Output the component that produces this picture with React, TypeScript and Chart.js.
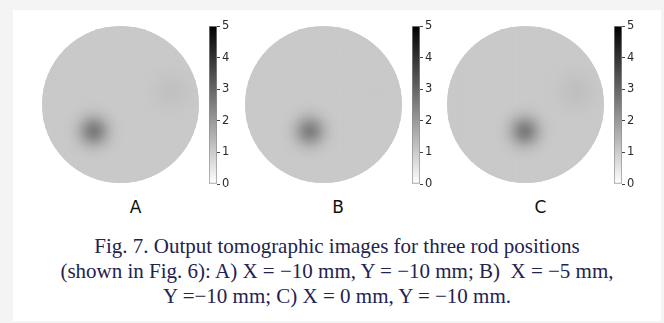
import React, { useEffect, useRef } from 'react';
import { Chart, registerables } from 'chart.js';

Chart.register(...registerables);

// ---------- data ----------
const PANEL_LABELS = ['A', 'B', 'C'];
const FIELD_RADIUS_MM = 30;
const BACKGROUND_LEVEL = [1.05, 1.05, 1.05];
const ROD_X_MM = [-10, -5, 0];
const ROD_Y_MM = [-10, -10, -10];
const ROD_PEAK = [1.5, 1.42, 1.5];
const ROD_SIGMA_MM = [3.9, 3.9, 3.9];
const ARTIFACT_X_MM = [19.5, 19.5, 19.5];
const ARTIFACT_Y_MM = [5.3, 5.3, 5.3];
const ARTIFACT_PEAK = [0.17, 0.02, 0.19];
const ARTIFACT_SIGMA_MM = [5.0, 5.0, 5.0];
const COLORBAR_MIN = 0;
const COLORBAR_MAX = 5;
const COLORBAR_TICKS = [0, 1, 2, 3, 4, 5];
const GRID_CELLS = 90;

const CAPTION_LINES = [
  'Fig. 7. Output tomographic images for three rod positions',
  '(shown in Fig. 6): A) X = \u221210 mm, Y = \u221210 mm; B)\u00a0 X = \u22125 mm,',
  'Y =\u221210 mm; C) X = 0 mm, Y = \u221210 mm.',
];

// ---------- layout ----------
const PANEL_STEP = 202.5;
const IMG_LEFT = 42;
const IMG_TOP = 26;
const IMG_SIZE = 157;
const CB_LEFT = 209;
const CB_TOP = 26;
const CB_BAR_W = 8;
const CB_BAR_H = 158;
const CB_AXIS_W = 20;
const CB_PAD = 9;
const LABEL_CX = 135.5;

type Cell = { x: number; y: number; v: number };

function buildCells(k: number): Cell[] {
  const R = FIELD_RADIUS_MM;
  const step = (2 * R) / GRID_CELLS;
  const cells: Cell[] = [];
  for (let i = 0; i < GRID_CELLS; i++) {
    for (let j = 0; j < GRID_CELLS; j++) {
      const x = -R + step * (i + 0.5);
      const y = -R + step * (j + 0.5);
      if (x * x + y * y > (R + step) * (R + step)) continue;
      const dr = (x - ROD_X_MM[k]) ** 2 + (y - ROD_Y_MM[k]) ** 2;
      const da = (x - ARTIFACT_X_MM[k]) ** 2 + (y - ARTIFACT_Y_MM[k]) ** 2;
      const v =
        BACKGROUND_LEVEL[k] +
        ROD_PEAK[k] * Math.exp(-dr / (2 * ROD_SIGMA_MM[k] ** 2)) +
        ARTIFACT_PEAK[k] * Math.exp(-da / (2 * ARTIFACT_SIGMA_MM[k] ** 2));
      cells.push({ x, y, v });
    }
  }
  return cells;
}

function grayFor(v: number): string {
  let t = (v - COLORBAR_MIN) / (COLORBAR_MAX - COLORBAR_MIN);
  t = Math.max(0, Math.min(1, t));
  const g = Math.round(255 * (1 - t));
  return `rgb(${g},${g},${g})`;
}

const circleClip = {
  id: 'circleClip',
  beforeDatasetsDraw(chart: any) {
    const { ctx } = chart;
    const xs = chart.scales.x;
    const ys = chart.scales.y;
    const cx = xs.getPixelForValue(0);
    const cy = ys.getPixelForValue(0);
    const r = Math.abs(xs.getPixelForValue(FIELD_RADIUS_MM) - cx);
    ctx.save();
    ctx.beginPath();
    ctx.arc(cx, cy, r, 0, Math.PI * 2);
    ctx.clip();
  },
  afterDatasetsDraw(chart: any) {
    chart.ctx.restore();
  },
};

function ImagePanel({ k }: { k: number }) {
  const ref = useRef<HTMLCanvasElement | null>(null);
  useEffect(() => {
    if (!ref.current) return;
    const cells = buildCells(k);
    const step = (2 * FIELD_RADIUS_MM) / GRID_CELLS;
    const radiusFn = (c: any) => {
      const xs = c.chart.scales.x;
      const px = Math.abs(xs.getPixelForValue(step) - xs.getPixelForValue(0));
      return (px + 1) / Math.SQRT2;
    };
    const chart = new Chart(ref.current, {
      type: 'scatter',
      data: {
        datasets: [
          {
            data: cells as any,
            backgroundColor: cells.map((c) => grayFor(c.v)),
            borderWidth: 0,
            pointStyle: 'rect',
            pointRadius: radiusFn as any,
            pointHoverRadius: radiusFn as any,
          },
        ],
      },
      options: {
        animation: false,
        responsive: false,
        events: [],
        layout: { padding: 0 },
        plugins: { legend: { display: false }, tooltip: { enabled: false } },
        scales: {
          x: { type: 'linear', min: -FIELD_RADIUS_MM, max: FIELD_RADIUS_MM, display: false },
          y: { type: 'linear', min: -FIELD_RADIUS_MM, max: FIELD_RADIUS_MM, display: false },
        },
      },
      plugins: [circleClip],
    });
    return () => chart.destroy();
  }, [k]);
  const left = Math.round(IMG_LEFT + k * PANEL_STEP);
  return (
    <canvas
      ref={ref}
      width={IMG_SIZE}
      height={IMG_SIZE}
      style={{ position: 'absolute', left, top: IMG_TOP, width: IMG_SIZE, height: IMG_SIZE }}
    />
  );
}

function ColorbarPanel({ k }: { k: number }) {
  const ref = useRef<HTMLCanvasElement | null>(null);
  useEffect(() => {
    if (!ref.current) return;
    const chart = new Chart(ref.current, {
      type: 'bar',
      data: {
        labels: ['colorbar'],
        datasets: [
          {
            data: [[COLORBAR_MIN, COLORBAR_MAX]] as any,
            backgroundColor: (c: any) => {
              const ch = c.chart;
              if (!ch.chartArea) return '#888888';
              const ys = ch.scales.y;
              const g = ch.ctx.createLinearGradient(
                0,
                ys.getPixelForValue(COLORBAR_MIN),
                0,
                ys.getPixelForValue(COLORBAR_MAX)
              );
              g.addColorStop(0, '#ffffff');
              g.addColorStop(1, '#000000');
              return g;
            },
            borderColor: '#8f8f8f',
            borderWidth: 1,
            borderSkipped: false,
            barPercentage: 1,
            categoryPercentage: 1,
          } as any,
        ],
      },
      options: {
        animation: false,
        responsive: false,
        events: [],
        layout: { padding: { top: CB_PAD, bottom: CB_PAD, left: 0, right: 0 } },
        plugins: { legend: { display: false }, tooltip: { enabled: false } },
        scales: {
          x: { display: false },
          y: {
            type: 'linear',
            min: COLORBAR_MIN,
            max: COLORBAR_MAX,
            position: 'right',
            afterBuildTicks: (s: any) => {
              s.ticks = COLORBAR_TICKS.map((v) => ({ value: v }));
            },
            afterFit: (s: any) => {
              s.width = CB_AXIS_W;
            },
            ticks: {
              font: { family: 'DejaVu Sans', size: 11.5 },
              color: '#2b2b2b',
              padding: 2,
            },
            grid: { drawOnChartArea: false, drawTicks: true, tickLength: 3, color: '#444444' },
            border: { display: false },
          },
        },
      },
    });
    return () => chart.destroy();
  }, [k]);
  const w = CB_BAR_W + CB_AXIS_W;
  const h = CB_BAR_H + 2 * CB_PAD;
  const left = Math.round(CB_LEFT + k * PANEL_STEP);
  return (
    <canvas
      ref={ref}
      width={w}
      height={h}
      style={{ position: 'absolute', left, top: CB_TOP - CB_PAD, width: w, height: h }}
    />
  );
}

export default function App() {
  return (
    <div
      style={{
        position: 'absolute',
        left: 0,
        top: 0,
        width: 664,
        height: 323,
        background: '#f4f4f4',
        overflow: 'hidden',
      }}
    >
      <div
        style={{ position: 'absolute', left: 13, top: 10, width: 648, height: 311, background: '#ffffff' }}
      />
      {PANEL_LABELS.map((lab, k) => (
        <React.Fragment key={lab}>
          <ImagePanel k={k} />
          <ColorbarPanel k={k} />
          <div
            style={{
              position: 'absolute',
              left: LABEL_CX + k * PANEL_STEP - 20,
              top: 199,
              width: 40,
              textAlign: 'center',
              fontFamily: 'DejaVu Sans',
              fontSize: 17,
              lineHeight: '17px',
              color: '#111111',
            }}
          >
            {lab}
          </div>
        </React.Fragment>
      ))}
      <div
        style={{
          position: 'absolute',
          left: 13,
          top: 234,
          width: 648,
          textAlign: 'center',
          fontFamily: '"Liberation Serif", "Times New Roman", serif',
          fontSize: 21,
          lineHeight: '25px',
          color: '#23234f',
          whiteSpace: 'pre',
        }}
      >
        {CAPTION_LINES.join('\n')}
      </div>
    </div>
  );
}
